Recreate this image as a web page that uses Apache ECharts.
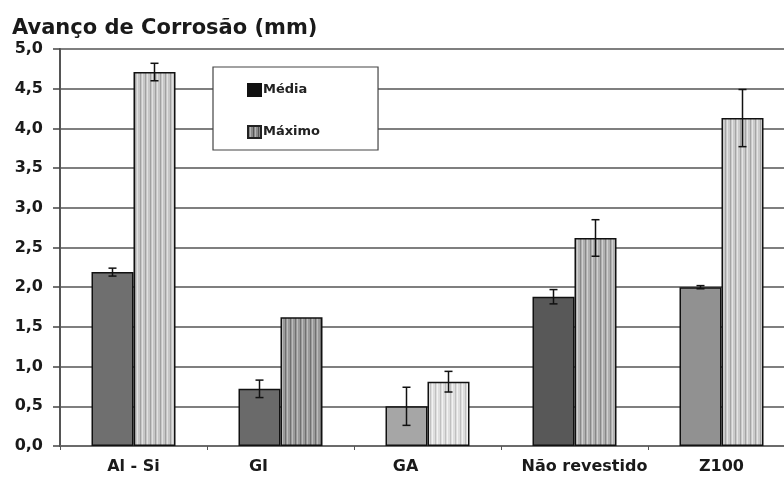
<!DOCTYPE html>
<html>
<head>
<meta charset="utf-8">
<script src="https://cdn.jsdelivr.net/npm/echarts@6/dist/echarts.min.js"></script>
<style>
  html, body { margin: 0; padding: 0; background: #fff; }
  #chart { width: 784px; height: 479px; }
</style>
</head>
<body>
<div id="chart"></div>
<script>
// Coatings tested and the corrosion advance measured for each (mm)
const categories = ['Al - Si', 'GI', 'GA', 'Não revestido', 'Z100'];
const mediaValues = [2.19, 0.72, 0.50, 1.88, 2.00];
const mediaErrors = [0.05, 0.11, 0.24, 0.09, 0.02];
const maximoValues = [4.71, 1.62, 0.81, 2.62, 4.13];
const maximoErrors = [0.11, 0, 0.13, 0.23, 0.36];
const yTicks = [0, 0.5, 1, 1.5, 2, 2.5, 3, 3.5, 4, 4.5, 5];

// Horizontal nudge of each category label (px)
const labelShift = [0, -22, -22, 10, 0];

// Fill tones per coating
const mediaFills = ['#6f6f6f', '#6a6a6a', '#a6a6a6', '#585858', '#919191'];
const maximoTones = [
  ['#c6c6c6', '#a0a0a0', '#e0e0e0'],
  ['#9a9a9a', '#707070', '#bcbcbc'],
  ['#dedede', '#c0c0c0', '#f2f2f2'],
  ['#b0b0b0', '#888888', '#d0d0d0'],
  ['#cacaca', '#a4a4a4', '#e4e4e4']
];

// Vertical pin-stripe texture
function stripes(base, dark, light) {
  const c = document.createElement('canvas');
  c.width = 5; c.height = 4;
  const g = c.getContext('2d');
  g.fillStyle = base; g.fillRect(0, 0, 5, 4);
  g.fillStyle = dark; g.fillRect(0, 0, 1, 4);
  g.fillStyle = light; g.fillRect(2, 0, 1, 4);
  return { image: c, repeat: 'repeat' };
}

const font = 'DejaVu Sans';
const BAR_W = 42;

function errorSeries(values, errors, side) {
  return {
    type: 'custom',
    z: 5,
    silent: true,
    data: values.map((v, i) => [i, v - errors[i], v + errors[i]]),
    renderItem(params, api) {
      const i = api.value(0);
      const lo = api.value(1), hi = api.value(2);
      if (hi - lo < 1e-6) return null;
      const p1 = api.coord([i, hi]);
      const p2 = api.coord([i, lo]);
      const x = p1[0] + side * BAR_W / 2;
      const cap = 4;
      const st = { stroke: '#111', lineWidth: 1.5 };
      return {
        type: 'group',
        children: [
          { type: 'line', shape: { x1: x, y1: p1[1], x2: x, y2: p2[1] }, style: st },
          { type: 'line', shape: { x1: x - cap, y1: p1[1], x2: x + cap, y2: p1[1] }, style: st },
          { type: 'line', shape: { x1: x - cap, y1: p2[1], x2: x + cap, y2: p2[1] }, style: st }
        ]
      };
    }
  };
}

const categoryItems = categories.map((name, i) => {
  const s = labelShift[i];
  return {
    value: name,
    textStyle: { padding: s >= 0 ? [0, 0, 0, 2 * s] : [0, -2 * s, 0, 0] }
  };
});

const chart = echarts.init(document.getElementById('chart'), null, { renderer: 'canvas' });
chart.setOption({
  animation: false,
  backgroundColor: '#ffffff',
  title: {
    text: 'Avanço de Corrosão (mm)',
    left: 7, top: 13,
    textStyle: { fontFamily: font, fontWeight: 'bold', fontSize: 21, color: '#1a1a1a' }
  },
  legend: {
    data: ['Média', 'Máximo'],
    orient: 'vertical',
    left: 213, top: 67,
    icon: 'rect',
    itemWidth: 13, itemHeight: 12, itemGap: 28,
    padding: [16, 58, 11, 34],
    backgroundColor: '#ffffff',
    borderColor: '#444', borderWidth: 1.2,
    textStyle: { fontFamily: font, fontWeight: 'bold', fontSize: 13, color: '#222', padding: [0, 0, 0, -3] },
    selectedMode: false
  },
  grid: { left: 60, width: 735, top: 49, bottom: 33, containLabel: false, outerBoundsMode: 'none' },
  xAxis: {
    type: 'category',
    data: categoryItems,
    axisLine: { lineStyle: { color: '#666', width: 1.5 } },
    axisTick: { show: true, length: 4, lineStyle: { color: '#555' } },
    axisLabel: { interval: 0, margin: 13, fontFamily: font, fontWeight: 'bold', fontSize: 16, color: '#1a1a1a' }
  },
  yAxis: {
    type: 'value',
    min: 0, max: 5, interval: 0.5,
    axisLine: { show: true, lineStyle: { color: '#555', width: 2 } },
    axisTick: { show: true, length: 7, lineStyle: { color: '#444', width: 1.5 } },
    splitLine: { lineStyle: { color: '#555', width: 1.5 } },
    axisLabel: {
      margin: 17, fontFamily: font, fontWeight: 'bold', fontSize: 16, color: '#1a1a1a',
      formatter: v => yTicks.includes(v) ? v.toFixed(1).replace('.', ',') : ''
    }
  },
  series: [
    {
      name: 'Média', type: 'bar', barWidth: BAR_W, barGap: 0,
      itemStyle: { color: '#111', borderColor: '#111', borderWidth: 1.5 },
      data: mediaValues.map((v, i) => ({ value: v, itemStyle: { color: mediaFills[i], borderColor: '#111', borderWidth: 1.5 } }))
    },
    {
      name: 'Máximo', type: 'bar', barWidth: BAR_W, barGap: 0,
      itemStyle: { color: stripes('#8a8a8a', '#555', '#b5b5b5'), borderColor: '#222', borderWidth: 1.2 },
      data: maximoValues.map((v, i) => ({ value: v, itemStyle: { color: stripes(...maximoTones[i]), borderColor: '#111', borderWidth: 1.5 } }))
    },
    errorSeries(mediaValues, mediaErrors, -1),
    errorSeries(maximoValues, maximoErrors, 1)
  ]
});
</script>
</body>
</html>
